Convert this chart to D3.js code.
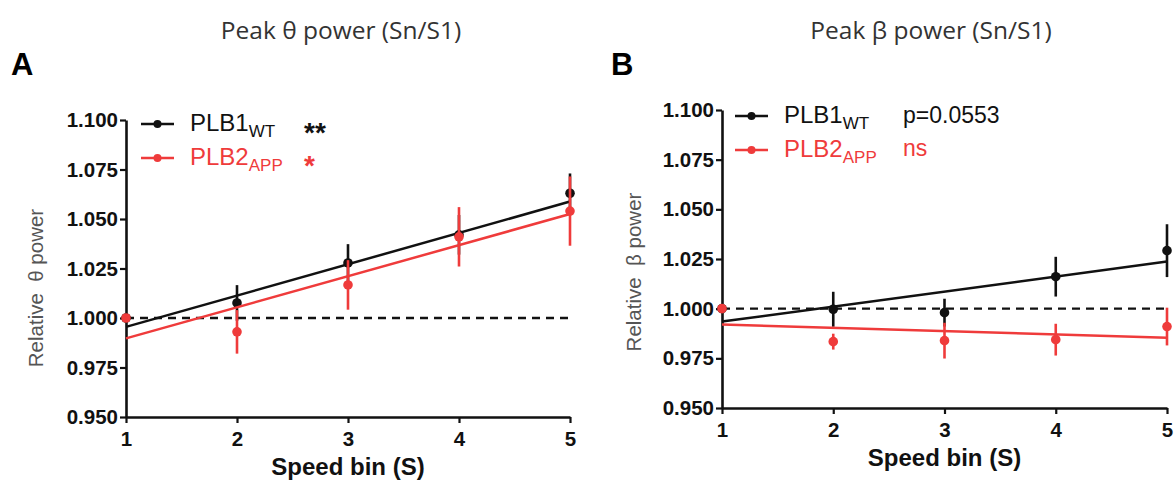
<!DOCTYPE html>
<html>
<head>
<meta charset="utf-8">
<title>Peak theta / beta power vs speed bin</title>
<script src="https://cdn.jsdelivr.net/npm/d3@7"></script>
<style>
  body { margin: 0; background: #fff; }
  svg text { font-family: "Liberation Sans", Arial, sans-serif; }
</style>
</head>
<body>
<svg id="chart" width="1176" height="484"></svg>
<script>
// speed bins and y ticks shared by both panels
const bins = [1, 2, 3, 4, 5];
const yTicks = [0.950, 0.975, 1.000, 1.025, 1.050, 1.075, 1.100];

// panel A: peak theta power (Sn/S1)
const thetaWT = [1.000, 1.0076, 1.0278, 1.042, 1.063];
const thetaWTerr = [0, 0.009, 0.0095, 0.010, 0.010];
const thetaAPP = [1.000, 0.993, 1.0167, 1.041, 1.054];
const thetaAPPerr = [0, 0.011, 0.0125, 0.015, 0.0175];
const thetaWTfit = [0.9955, 1.0588];   // fitted value at bin 1 and bin 5
const thetaAPPfit = [0.9897, 1.0525];

// panel B: peak beta power (Sn/S1)
const betaWT = [1.000, 0.9997, 0.998, 1.0161, 1.0292];
const betaWTerr = [0, 0.0088, 0.007, 0.010, 0.0133];
const betaAPP = [1.000, 0.9834, 0.9839, 0.9844, 0.991];
const betaAPPerr = [0, 0.004, 0.009, 0.008, 0.0095];
const betaWTfit = [0.9935, 1.0237];
const betaAPPfit = [0.992, 0.9854];

const BLACK = "#111";
const RED = "#ef3b3b";

const svg = d3.select("#chart");

function drawPanel(p) {
  const g = svg.append("g");
  const x = d3.scaleLinear().domain([1, 5]).range([p.left, p.right]);
  const y = d3.scaleLinear().domain([0.95, 1.1]).range([p.bottom, p.top]);

  // title + panel letter
  g.append("text")
    .attr("x", p.titleX).attr("y", 39)
    .attr("text-anchor", "middle")
    .style("font-family", "'Open Sans', 'Noto Sans', sans-serif")
    .style("font-size", "24.5px")
    .style("fill", "#333")
    .text(p.title);

  g.append("text")
    .attr("x", p.letterX).attr("y", 75)
    .style("font-size", "31px").style("font-weight", "bold")
    .text(p.letter);

  // axes
  const yAxis = d3.axisLeft(y)
    .tickValues(yTicks)
    .tickFormat(d3.format(".3f"))
    .tickSize(6).tickSizeOuter(0).tickPadding(2);
  const xAxis = d3.axisBottom(x)
    .tickValues(bins)
    .tickFormat(d3.format("d"))
    .tickSize(6).tickSizeOuter(0).tickPadding(8);

  const ya = g.append("g").attr("transform", `translate(${p.left},0)`).call(yAxis);
  const xa = g.append("g").attr("transform", `translate(0,${p.bottom})`).call(xAxis);
  for (const a of [ya, xa]) {
    a.attr("font-family", null).attr("font-size", null);
    a.select(".domain").attr("stroke", BLACK).attr("stroke-width", 2.6);
    a.selectAll(".tick line").attr("stroke", BLACK).attr("stroke-width", 2.2);
    a.selectAll(".tick text")
      .style("font-size", "20.5px").style("font-weight", "bold").style("fill", BLACK);
  }

  // axis titles
  g.append("text")
    .attr("transform", `translate(${p.yTitleX},${p.yTitleY}) rotate(-90)`)
    .attr("text-anchor", "middle")
    .style("font-size", "20.5px").style("fill", "#555")
    .style("white-space", "pre")
    .text(p.yTitle);

  g.append("text")
    .attr("x", (p.left + p.right) / 2).attr("y", p.bottom + 58)
    .attr("text-anchor", "middle")
    .style("font-size", "24px").style("font-weight", "bold").style("fill", BLACK)
    .text("Speed bin (S)");

  // dashed reference at 1.000
  g.append("line")
    .attr("x1", x(1)).attr("x2", x(5))
    .attr("y1", y(1)).attr("y2", y(1))
    .attr("stroke", BLACK).attr("stroke-width", 2.4)
    .attr("stroke-dasharray", "8,6");

  // series
  for (const s of p.series) {
    g.append("line")
      .attr("x1", x(1)).attr("y1", y(s.fit[0]))
      .attr("x2", x(5)).attr("y2", y(s.fit[1]))
      .attr("stroke", s.color).attr("stroke-width", 2.5);

    bins.forEach((b, i) => {
      if (s.err[i] > 0) {
        g.append("line")
          .attr("x1", x(b)).attr("x2", x(b))
          .attr("y1", y(s.values[i] - s.err[i]))
          .attr("y2", y(s.values[i] + s.err[i]))
          .attr("stroke", s.color).attr("stroke-width", 2.6);
      }
      g.append("circle")
        .attr("cx", x(b)).attr("cy", y(s.values[i]))
        .attr("r", 4.8).attr("fill", s.color);
    });
  }

  // legend
  p.series.forEach((s, i) => {
    const ly = p.legendY + i * 34;
    g.append("line")
      .attr("x1", p.legendX).attr("x2", p.legendX + 33)
      .attr("y1", ly).attr("y2", ly)
      .attr("stroke", s.color).attr("stroke-width", 2.5);
    g.append("circle")
      .attr("cx", p.legendX + 16.5).attr("cy", ly)
      .attr("r", 4).attr("fill", s.color);
    const t = g.append("text")
      .attr("x", p.legendX + 49).attr("y", ly + 7)
      .style("font-size", "24px").style("fill", s.color);
    t.append("tspan").text(s.name);
    t.append("tspan").attr("dy", 6).style("font-size", "17px").text(s.sub);

    g.append("text")
      .attr("x", p.sigX).attr("y", p.legendY + p.sigDy + i * p.sigGap)
      .style("fill", s.color)
      .style("font-size", p.sigSize + "px")
      .style("font-weight", p.sigBold ? "bold" : "normal")
      .text(s.sig);
  });
}

drawPanel({
  title: "Peak \u03b8 power (Sn/S1)", titleX: 341, letter: "A", letterX: 11,
  left: 126, right: 570, top: 120, bottom: 417,
  yTitle: "Relative  \u03b8 power", yTitleX: 43, yTitleY: 288,
  legendX: 141, legendY: 124, sigX: 304, sigDy: 18, sigGap: 33, sigSize: 28, sigBold: true,
  series: [
    { name: "PLB1", sub: "WT", color: BLACK, values: thetaWT, err: thetaWTerr, fit: thetaWTfit, sig: "**" },
    { name: "PLB2", sub: "APP", color: RED, values: thetaAPP, err: thetaAPPerr, fit: thetaAPPfit, sig: "*" }
  ]
});

drawPanel({
  title: "Peak \u03b2 power (Sn/S1)", titleX: 931, letter: "B", letterX: 611,
  left: 722, right: 1167, top: 110, bottom: 408,
  yTitle: "Relative  \u03b2 power", yTitleX: 641, yTitleY: 272,
  legendX: 735, legendY: 116, sigX: 903, sigDy: 7, sigGap: 33, sigSize: 23, sigBold: false,
  series: [
    { name: "PLB1", sub: "WT", color: BLACK, values: betaWT, err: betaWTerr, fit: betaWTfit, sig: "p=0.0553" },
    { name: "PLB2", sub: "APP", color: RED, values: betaAPP, err: betaAPPerr, fit: betaAPPfit, sig: "ns" }
  ]
});
</script>
</body>
</html>
